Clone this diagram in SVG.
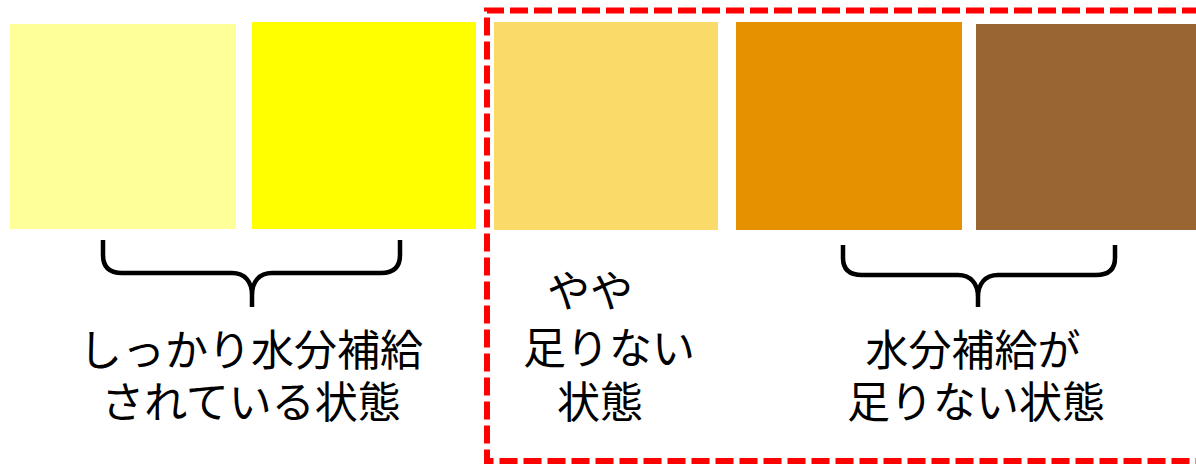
<svg xmlns="http://www.w3.org/2000/svg" width="1196" height="464" viewBox="0 0 1196 464">
<style>
.t{font-family:"Noto Sans CJK JP","Noto Sans CJK SC",sans-serif;font-size:43px;fill:#000}
.m{text-anchor:middle}
.brace{fill:none;stroke:#000;stroke-width:4.5;stroke-linecap:butt}
</style>
<rect width="1196" height="464" fill="#fff"/>
<g id="swatch1"><rect x="10" y="24" width="226" height="205" fill="#FFFF99"/></g>
<g id="swatch2"><rect x="252" y="22" width="224" height="207" fill="#FFFF00"/></g>
<g id="swatch3"><rect x="494" y="22" width="224" height="208" fill="#FADB6A"/></g>
<g id="swatch4"><rect x="736" y="22" width="226" height="208" fill="#E69100"/></g>
<g id="swatch5"><rect x="976" y="24" width="224" height="206" fill="#996633"/></g>
<g id="frame"><path d="M1200 10.5 H487 V461 H1200" fill="none" stroke="#FF0000" stroke-width="6" stroke-dasharray="18 6"/></g>
<g id="connectors">
<path class="brace" d="M103 240 V255 C103 268 110 273 122 273 H232 C245 273 252 282 252 295 V307 M400 240 V255 C400 268 393 273 381 273 H272 C259 273 252 282 252 295"/>
<path class="brace" d="M843 245 V258 C843 270 850 275 862 275 H958 C971 275 978 284 978 297 V307 M1115 245 V258 C1115 270 1108 275 1096 275 H998 C985 275 978 284 978 297"/>
</g>
<g id="label1">
<text class="t m" x="251" y="366">しっかり水分補給</text>
<text class="t m" x="251" y="418">されている状態</text>
</g>
<g id="label2">
<text class="t" x="547" y="307">やや</text>
<text class="t" x="523" y="364">足りない</text>
<text class="t" x="557" y="418">状態</text>
</g>
<g id="label3">
<text class="t m" x="973" y="366">水分補給が</text>
<text class="t m" x="976" y="418">足りない状態</text>
</g>
</svg>
